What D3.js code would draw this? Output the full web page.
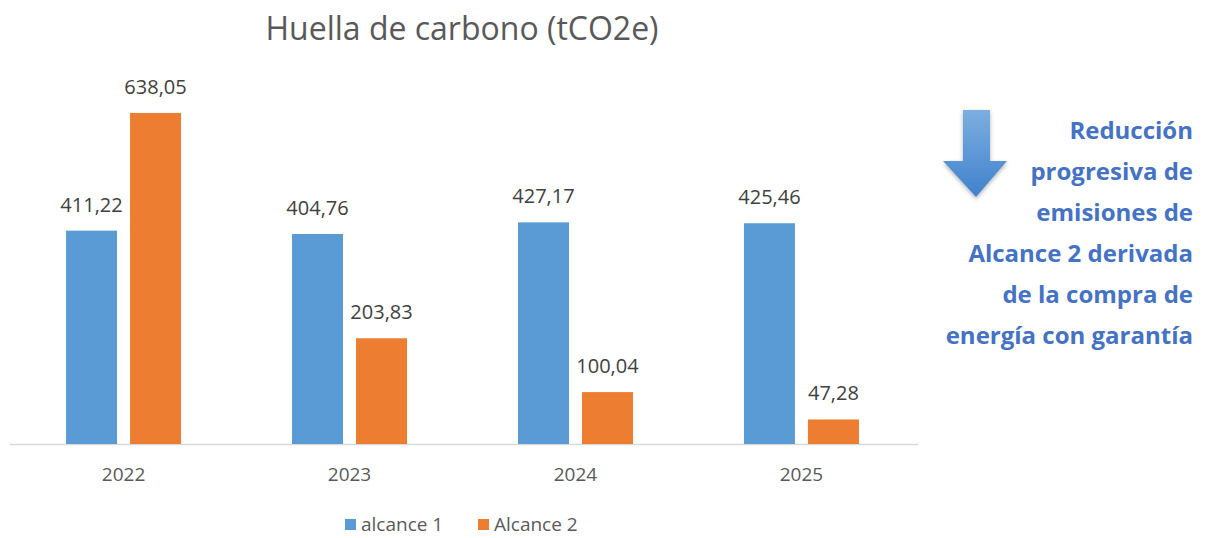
<!DOCTYPE html>
<html>
<head>
<meta charset="utf-8">
<script src="https://cdnjs.cloudflare.com/ajax/libs/d3/7.8.5/d3.min.js"></script>
<style>
  body { margin: 0; background: #fff; }
  svg { display: block; font-family: "Open Sans", "Liberation Sans", sans-serif; }
</style>
</head>
<body>
<svg id="chart" width="1206" height="538"></svg>
<script>
'use strict';

var years = ["2022", "2023", "2024", "2025"];
var seriesNames = ["alcance 1", "Alcance 2"];
var alcance1 = [411.22, 404.76, 427.17, 425.46];
var alcance2 = [638.05, 203.83, 100.04, 47.28];
var noteLines = ["Reducción", "progresiva de", "emisiones de", "Alcance 2 derivada", "de la compra de", "energía con garantía"];

var colors = ["#5B9BD5", "#ED7D31"];

var svg = d3.select("#chart");

var x0 = d3.scaleBand()
    .domain(years)
    .range([10, 915])
    .paddingInner(0.491)
    .paddingOuter(0.248);

var x1 = d3.scaleBand()
    .domain(seriesNames)
    .range([0, x0.bandwidth()])
    .paddingInner(0.203);

var y = d3.scaleLinear()
    .domain([0, 700])
    .range([444, 80.8]);

var fmt = function(v) { return v.toFixed(2).replace(".", ","); };

var data = years.map(function(yr, i) {
    return { year: yr, values: [alcance1[i], alcance2[i]] };
});

// title
svg.append("text")
    .attr("x", 462)
    .attr("y", 40)
    .attr("text-anchor", "middle")
    .attr("fill", "#595959")
    .style("font-size", "32px")
    .text("Huella de carbono (tCO2e)");

// baseline
svg.append("line")
    .attr("x1", 10).attr("x2", 918)
    .attr("y1", y(0) + 0.5).attr("y2", y(0) + 0.5)
    .attr("stroke", "#D9D9D9")
    .attr("stroke-width", 1.5);

var groups = svg.selectAll(".grp")
    .data(data)
    .enter().append("g")
    .attr("class", "grp")
    .attr("transform", function(d) { return "translate(" + x0(d.year) + ",0)"; });

groups.selectAll("rect")
    .data(function(d) { return d.values.map(function(v, j) { return { key: seriesNames[j], v: v, j: j }; }); })
    .enter().append("rect")
    .attr("x", function(d) { return x1(d.key); })
    .attr("width", x1.bandwidth())
    .attr("y", function(d) { return y(d.v); })
    .attr("height", function(d) { return y(0) - y(d.v); })
    .attr("fill", function(d) { return colors[d.j]; });

groups.selectAll(".lbl")
    .data(function(d) { return d.values.map(function(v, j) { return { key: seriesNames[j], v: v }; }); })
    .enter().append("text")
    .attr("class", "lbl")
    .attr("x", function(d) { return x1(d.key) + x1.bandwidth() / 2; })
    .attr("y", function(d) { return y(d.v) - 19; })
    .attr("text-anchor", "middle")
    .attr("fill", "#404040")
    .style("font-size", "20px")
    .text(function(d) { return fmt(d.v); });

// x axis labels
var xAxis = d3.axisBottom(x0).tickSize(0).tickPadding(24);
var ax = svg.append("g")
    .attr("transform", "translate(0," + y(0) + ")")
    .call(xAxis);
ax.select(".domain").remove();
ax.selectAll("text")
    .attr("fill", "#595959")
    .style("font-size", "19px")
    .style("font-family", "'Open Sans', 'Liberation Sans', sans-serif");

// legend
var legend = svg.append("g").attr("transform", "translate(345,524)");
var legX = [0, 133];
seriesNames.forEach(function(name, i) {
    var g = legend.append("g").attr("transform", "translate(" + legX[i] + ",0)");
    g.append("rect")
        .attr("x", 0).attr("y", -5)
        .attr("width", 11).attr("height", 11)
        .attr("fill", colors[i]);
    g.append("text")
        .attr("x", 16).attr("y", 7)
        .attr("fill", "#595959")
        .style("font-size", "19px")
        .text(name);
});

// arrow with gradient
var defs = svg.append("defs");
var grad = defs.append("linearGradient")
    .attr("id", "arrowGrad")
    .attr("x1", 0).attr("y1", 0).attr("x2", 0).attr("y2", 1);
grad.append("stop").attr("offset", "0%").attr("stop-color", "#7DAEE0");
grad.append("stop").attr("offset", "100%").attr("stop-color", "#3F82CC");

var filt = defs.append("filter").attr("id", "shadow").attr("x", "-30%").attr("y", "-30%").attr("width", "160%").attr("height", "160%");
filt.append("feDropShadow").attr("dx", 0).attr("dy", 2).attr("stdDeviation", 2).attr("flood-color", "#000").attr("flood-opacity", 0.3);

svg.append("path")
    .attr("d", "M963,110 L990,110 L990,161 L1007,161 L976,197 L943,161 L963,161 Z")
    .attr("fill", "url(#arrowGrad)")
    .attr("filter", "url(#shadow)");

// note text
svg.append("g").selectAll("text")
    .data(noteLines)
    .enter().append("text")
    .attr("x", 1193)
    .attr("y", function(d, i) { return 139 + i * 41; })
    .attr("text-anchor", "end")
    .attr("fill", "#4472C4")
    .style("font-size", "24px")
    .style("font-weight", "bold")
    .text(function(d) { return d; });
</script>
</body>
</html>
